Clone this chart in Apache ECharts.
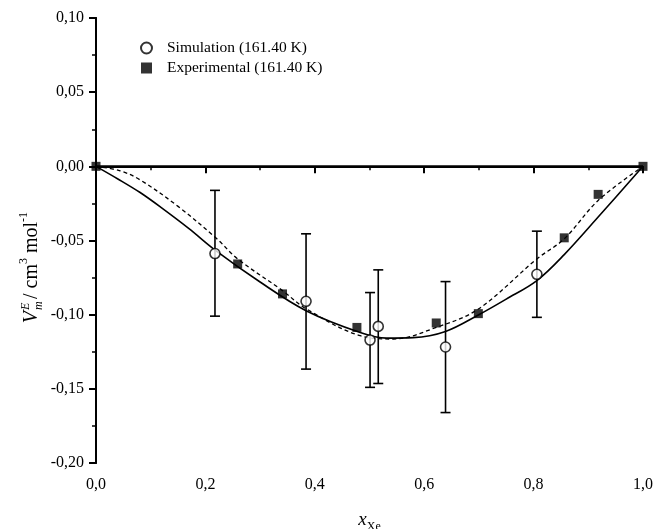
<!DOCTYPE html>
<html>
<head>
<meta charset="utf-8">
<script src="https://cdn.jsdelivr.net/npm/echarts@6/dist/echarts.min.js"></script>
<style>
html,body{margin:0;padding:0;background:#fff;}
#c{width:654px;height:529px;}
</style>
</head>
<body>
<div id="c"></div>
<script>
// ---- data ----
const xTicks = ['0,0','0,2','0,4','0,6','0,8','1,0'];
const yTicks = ['-0,20','-0,15','-0,10','-0,05','0,00','0,05','0,10'];

const simName = 'Simulation (161.40 K)';
const simX  = [0.2175, 0.384, 0.501, 0.516, 0.639, 0.806];
const simY  = [-0.0588, -0.091, -0.1171, -0.1079, -0.1218, -0.0728];
const simHi = [-0.0162, -0.0455, -0.0851, -0.0698, -0.0777, -0.0437];
const simLo = [-0.1010, -0.1367, -0.1490, -0.1464, -0.1660, -0.1018];

const expName = 'Experimental (161.40 K)';
const expX = [0, 0.259, 0.341, 0.477, 0.622, 0.699, 0.856, 0.918, 1.0];
const expY = [0, -0.0658, -0.086, -0.1086, -0.1056, -0.0993, -0.0482, -0.0189, 0];

const solidX = [0, 0.04, 0.08, 0.12, 0.17, 0.219, 0.30, 0.384, 0.483, 0.531, 0.58, 0.639, 0.699, 0.75, 0.806, 0.856, 0.918, 1.0];
const solidY = [0, -0.0085, -0.0175, -0.028, -0.042, -0.0568, -0.078, -0.0973, -0.112, -0.1158, -0.1155, -0.1113, -0.1002, -0.0895, -0.077, -0.0595, -0.0342, 0];

const dashX = [0, 0.044, 0.08, 0.15, 0.219, 0.259, 0.341, 0.384, 0.483, 0.544, 0.622, 0.699, 0.806, 0.856, 0.918, 1.0];
const dashY = [0, -0.003, -0.009, -0.027, -0.0482, -0.0624, -0.0838, -0.096, -0.1142, -0.1164, -0.1086, -0.0962, -0.0624, -0.0489, -0.023, 0];

const zeroX = [0, 1];
const zeroY = [0, 0];

// ---- build ----
const FONT = '"Liberation Serif", "Times New Roman", serif';
const pairs = (xs, ys) => xs.map((x, i) => [x, ys[i]]);
const xLabel = v => { const i = Math.round(v / 0.2); return (Math.abs(v - i * 0.2) < 1e-6) ? xTicks[i] : ''; };
const yLabel = v => { const i = Math.round((v + 0.2) / 0.05); return yTicks[i] || ''; };

const chart = echarts.init(document.getElementById('c'), null, {renderer: 'canvas'});
const axisLine = {show: true, lineStyle: {color: '#000', width: 2}};

chart.setOption({
  animation: false,
  backgroundColor: '#fff',
  grid: {left: 96, right: 11, top: 18, bottom: 66, containLabel: false, outerBoundsMode: 'none'},
  legend: {
    orient: 'vertical', left: 135, top: 35, itemGap: 4, itemWidth: 11, itemHeight: 11,
    data: [{name: simName, icon: 'circle'}, {name: expName, icon: 'rect'}],
    textStyle: {fontFamily: FONT, fontSize: 15.5, color: '#000', padding: [0, 0, 0, 10]}
  },
  xAxis: [{
    type: 'value', min: 0, max: 1, interval: 0.2,
    axisLine: axisLine,
    axisTick: {show: true, inside: false, length: 7, lineStyle: {color: '#000', width: 2}},
    minorTick: {show: true, splitNumber: 2, length: 4, lineStyle: {color: '#000', width: 1.5}},
    splitLine: {show: false},
    axisLabel: {formatter: xLabel, fontFamily: FONT, fontSize: 16, color: '#000', margin: 14},
    name: '{i|x}{sub|Xe}', nameLocation: 'middle', nameGap: 44,
    nameTextStyle: {rich: {
      i: {fontFamily: FONT, fontStyle: 'italic', fontSize: 19, color: '#000', lineHeight: 26, verticalAlign: 'middle'},
      sub: {fontFamily: FONT, fontSize: 12, color: '#000', verticalAlign: 'bottom', lineHeight: 26}
    }}
  }, {
    type: 'value', min: 0, max: 1, position: 'top',
    axisLine: axisLine, axisTick: {show: false}, axisLabel: {show: false}, splitLine: {show: false}
  }],
  yAxis: [{
    type: 'value', min: -0.2, max: 0.1, interval: 0.05,
    axisLine: axisLine,
    axisTick: {show: true, inside: false, length: 7, lineStyle: {color: '#000', width: 2}},
    minorTick: {show: true, splitNumber: 2, length: 4, lineStyle: {color: '#000', width: 1.5}},
    splitLine: {show: false},
    axisLabel: {formatter: yLabel, fontFamily: FONT, fontSize: 16, color: '#000', margin: 12}
  }, {
    type: 'value', min: -0.2, max: 0.1, position: 'right',
    axisLine: axisLine, axisTick: {show: false}, axisLabel: {show: false}, splitLine: {show: false}
  }],
  graphic: [{
    type: 'group', x: 32, y: 265, rotation: Math.PI / 2,
    children: [
      {type: 'text', x: -46, y: 0, style: {text: 'V', font: 'italic 20px ' + FONT, fill: '#000', align: 'right', verticalAlign: 'middle'}},
      {type: 'text', x: -45, y: -6, style: {text: 'E', font: 'italic 12px ' + FONT, fill: '#000', align: 'left', verticalAlign: 'middle'}},
      {type: 'text', x: -45, y: 7, style: {text: 'm', font: 'italic 12px ' + FONT, fill: '#000', align: 'left', verticalAlign: 'middle'}},
      {type: 'text', x: -34, y: 0, style: {
        text: '{n|/ cm}{sup|3}{n| mol}{sup|-1}', align: 'left', verticalAlign: 'middle',
        rich: {
          n: {fontFamily: FONT, fontSize: 20, fill: '#000', lineHeight: 28},
          sup: {fontFamily: FONT, fontSize: 12, fill: '#000', verticalAlign: 'top', lineHeight: 28}
        }
      }}
    ]
  }],
  series: [
    {
      type: 'line', data: pairs(zeroX, zeroY), symbol: 'none', silent: true,
      lineStyle: {color: '#000', width: 2}, z: 1
    },
    {
      type: 'line', data: pairs(solidX, solidY), symbol: 'none', smooth: 0.35, silent: true,
      lineStyle: {color: '#000', width: 1.6}, z: 2
    },
    {
      type: 'line', data: pairs(dashX, dashY), symbol: 'none', smooth: 0.35, silent: true,
      lineStyle: {color: '#000', width: 1.3, type: [4, 3]}, z: 2
    },
    {
      type: 'custom', silent: true, z: 3,
      data: simX.map((x, i) => [x, simLo[i], simHi[i]]),
      encode: {x: 0, y: [1, 2]},
      renderItem: function (params, api) {
        const x = api.value(0);
        const pLo = api.coord([x, api.value(1)]);
        const pHi = api.coord([x, api.value(2)]);
        const w = 5;
        const st = {stroke: '#000', lineWidth: 1.6};
        return {type: 'group', children: [
          {type: 'line', shape: {x1: pLo[0], y1: pLo[1], x2: pHi[0], y2: pHi[1]}, style: st},
          {type: 'line', shape: {x1: pLo[0] - w, y1: pLo[1], x2: pLo[0] + w, y2: pLo[1]}, style: st},
          {type: 'line', shape: {x1: pHi[0] - w, y1: pHi[1], x2: pHi[0] + w, y2: pHi[1]}, style: st}
        ]};
      }
    },
    {
      name: expName, type: 'scatter', data: pairs(expX, expY), symbol: 'rect', symbolSize: 9,
      itemStyle: {color: '#000'}, z: 4
    },
    {
      name: simName, type: 'scatter', data: pairs(simX, simY), symbol: 'circle', symbolSize: 10,
      itemStyle: {color: '#fff', borderColor: '#000', borderWidth: 1.6}, z: 5
    }
  ]
});
</script>
</body>
</html>
